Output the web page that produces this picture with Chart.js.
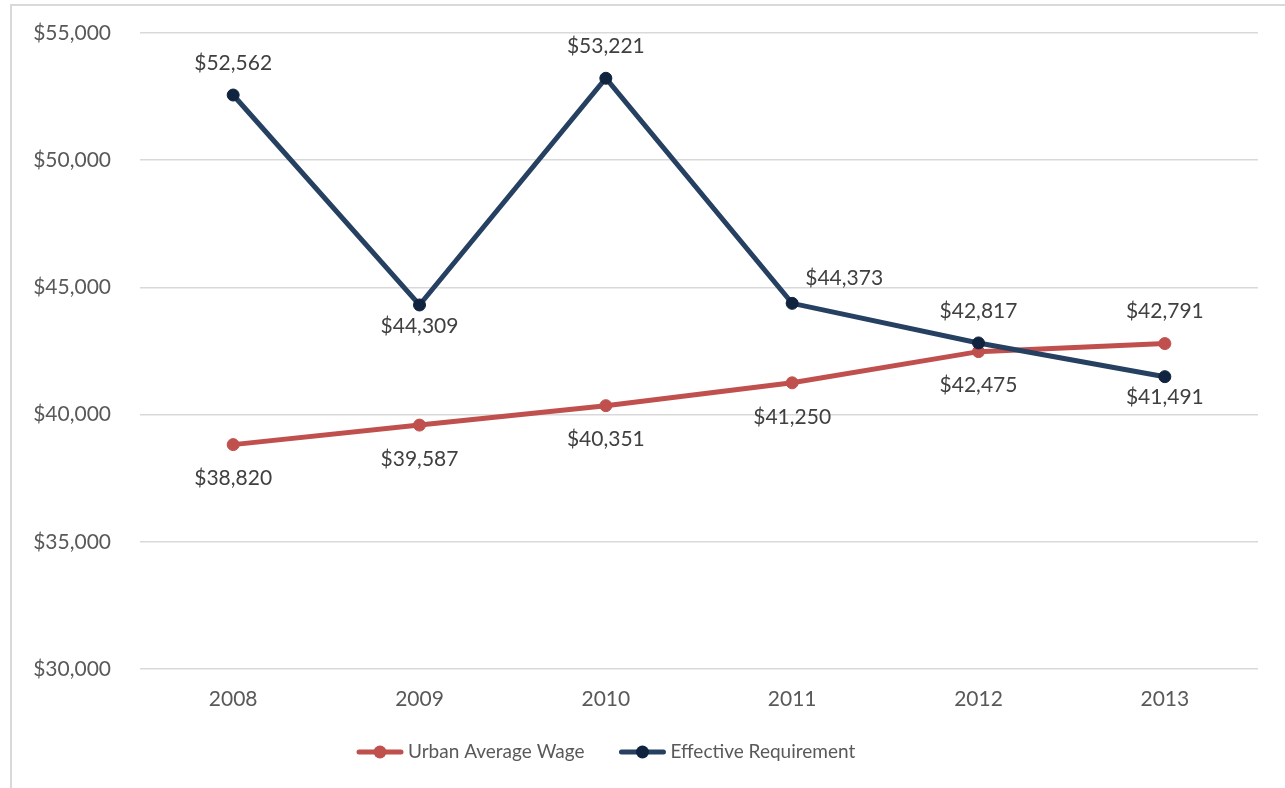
<!DOCTYPE html>
<html>
<head>
<meta charset="utf-8">
<title>Urban Average Wage vs Effective Requirement</title>
<script src="https://cdn.jsdelivr.net/npm/chart.js@4.4.1/dist/chart.umd.min.js"></script>
<style>
    html, body { margin: 0; padding: 0; background: #ffffff; overflow: hidden; }
    #frame {
        position: absolute; left: 10px; top: 4px; width: 1400px; height: 900px;
        border: 2px solid #d9d9d9; pointer-events: none;
    }
    #wageChart { position: absolute; left: 0; top: 0; }
</style>
</head>
<body>
<canvas id="wageChart" width="1285" height="788"></canvas>
<div id="frame"></div>
<script>
// 연도 및 시리즈 값
const years = ['2008', '2009', '2010', '2011', '2012', '2013'];
const urbanWage = [38820, 39587, 40351, 41250, 42475, 42791];
const effectiveReq = [52562, 44309, 53221, 44373, 42817, 41491];
const yTicks = [30000, 35000, 40000, 45000, 50000, 55000];

// 데이터 레이블 위치 (점 기준)
const urbanLabelPos = ['below', 'below', 'below', 'below', 'below', 'above'];
const reqLabelPos = ['above', 'below', 'above', 'upperRight', 'above', 'below'];

const FONT = 'Lato, "Open Sans", sans-serif';
const RED = '#C0504D';
const NAVY = '#254061';
const NAVY_DOT = '#10233F';
const TEXT_GRAY = '#595959';

const money = v => '$' + Number(v).toLocaleString('en-US');

// 값 레이블 그리기
const valueLabels = {
    id: 'valueLabels',
    afterDatasetsDraw(chart) {
        const ctx = chart.ctx;
        ctx.save();
        ctx.font = '21px ' + FONT;
        ctx.fillStyle = '#404040';
        ctx.textAlign = 'center';
        ctx.textBaseline = 'middle';
        chart.data.datasets.forEach((ds, di) => {
            const meta = chart.getDatasetMeta(di);
            meta.data.forEach((pt, i) => {
                const pos = ds.labelPos[i];
                let x = pt.x, y = pt.y;
                if (pos === 'above') y -= 32;
                else if (pos === 'below') y += ds.belowOffset;
                else if (pos === 'upperRight') { x += 52; y -= 25; }
                ctx.fillText(money(ds.data[i]), x, y);
            });
        });
        ctx.restore();
    }
};

// 하단 범례 (선 + 점 아이콘)
const lineLegend = {
    id: 'lineLegend',
    afterDraw(chart, args, opts) {
        const ctx = chart.ctx;
        ctx.save();
        ctx.font = '19px ' + FONT;
        ctx.textBaseline = 'middle';
        ctx.textAlign = 'left';
        let x = opts.x;
        const y = opts.y;
        chart.data.datasets.forEach(ds => {
            ctx.strokeStyle = ds.borderColor;
            ctx.lineWidth = 5;
            ctx.lineCap = 'round';
            ctx.beginPath(); ctx.moveTo(x + 2, y); ctx.lineTo(x + 44, y); ctx.stroke();
            ctx.fillStyle = ds.pointBackgroundColor;
            ctx.beginPath(); ctx.arc(x + 23, y, 6.5, 0, Math.PI * 2); ctx.fill();
            ctx.fillStyle = TEXT_GRAY;
            ctx.fillText(ds.label, x + 51, y);
            x += 51 + ctx.measureText(ds.label).width + 35;
        });
        ctx.restore();
    }
};

const ctx = document.getElementById('wageChart').getContext('2d');
new Chart(ctx, {
    type: 'line',
    data: {
        labels: years,
        datasets: [{
            label: 'Urban Average Wage',
            data: urbanWage,
            borderColor: RED,
            backgroundColor: RED,
            pointBackgroundColor: RED,
            pointBorderColor: RED,
            borderWidth: 5,
            pointRadius: 6,
            pointBorderWidth: 1,
            tension: 0,
            order: 1,
            labelPos: urbanLabelPos,
            belowOffset: 34
        }, {
            label: 'Effective Requirement',
            data: effectiveReq,
            borderColor: NAVY,
            backgroundColor: NAVY_DOT,
            pointBackgroundColor: NAVY_DOT,
            pointBorderColor: NAVY_DOT,
            borderWidth: 5,
            pointRadius: 6,
            pointBorderWidth: 1,
            tension: 0,
            order: 0,
            labelPos: reqLabelPos,
            belowOffset: 21
        }]
    },
    options: {
        responsive: false,
        animation: false,
        devicePixelRatio: 1,
        layout: { padding: { top: 33, right: 27, left: 0, bottom: 57 } },
        scales: {
            x: {
                offset: true,
                grid: { display: false },
                border: { display: false },
                ticks: { color: TEXT_GRAY, font: { family: FONT, size: 21 }, padding: 10 },
                afterFit: s => { s.height = 62; }
            },
            y: {
                min: 30000,
                max: 55000,
                afterBuildTicks: s => { s.ticks = yTicks.map(v => ({ value: v })); },
                // 눈금 표시는 투명하게 두고 레이블 간격만 확보
                grid: { color: '#d9d9d9', lineWidth: 1.5, drawTicks: true, tickLength: 29, tickColor: 'rgba(0,0,0,0)' },
                border: { display: false },
                ticks: {
                    color: TEXT_GRAY,
                    font: { family: FONT, size: 21 },
                    padding: 0,
                    callback: v => money(v)
                },
                afterFit: s => { s.width = 140; }
            }
        },
        plugins: {
            tooltip: { enabled: false },
            legend: { display: false },
            lineLegend: { x: 357, y: 752 }
        }
    },
    plugins: [valueLabels, lineLegend]
});
</script>
</body>
</html>
